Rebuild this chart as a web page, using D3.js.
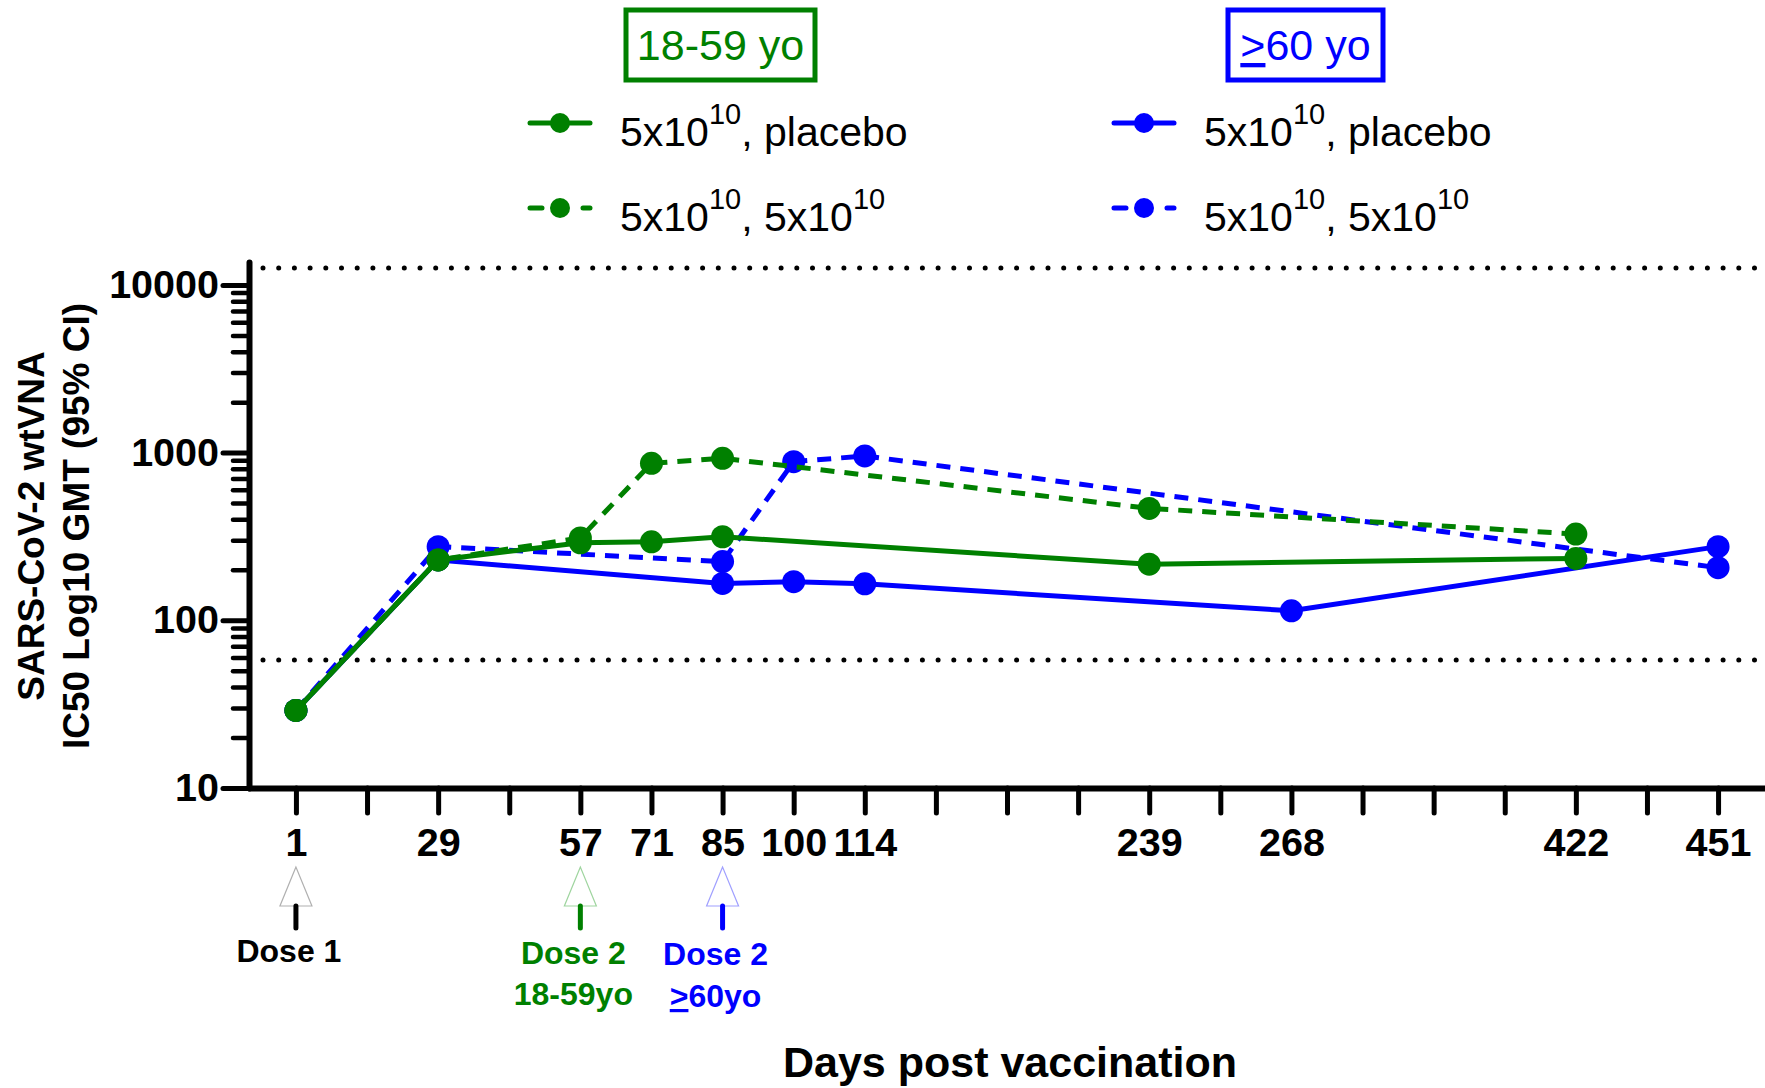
<!DOCTYPE html>
<html>
<head>
<meta charset="utf-8">
<script src="https://cdn.jsdelivr.net/npm/d3@7"></script>
<style>
  body { margin: 0; background: #fff; }
  text { font-family: "Liberation Sans", Arial, sans-serif; }
</style>
</head>
<body>
<svg id="chart" width="1765" height="1088"></svg>
<script>
// x axis: one slot per tick, empty label = unlabeled tick
const tickLabels = ['1', '', '29', '', '57', '71', '85', '100', '114', '', '', '', '239', '', '268', '', '', '', '422', '', '451'];
const majorTicks = [10, 100, 1000, 10000];
const limitLines = [58, 12600];

const days1859Placebo = ['1', '29', '57', '71', '85', '239', '422'];
const gmt1859Placebo = [29, 229, 290, 294, 315, 216, 234];
const days1859Boost = ['1', '29', '57', '71', '85', '239', '422'];
const gmt1859Boost = [29, 229, 310, 864, 925, 465, 327];
const days60Placebo = ['1', '29', '85', '100', '114', '268', '451'];
const gmt60Placebo = [29, 229, 166, 170, 165, 114, 275];
const days60Boost = ['1', '29', '85', '100', '114', '451'];
const gmt60Boost = [29, 275, 224, 883, 955, 206];

const doseDays = ['1', '57', '85'];

const GREEN = '#008000';
const BLUE = '#0000ff';

const svg = d3.select('#chart');

const x = d3.scalePoint()
  .domain(d3.range(tickLabels.length))
  .range([249, 1765])
  .padding(0.66);
const xDay = day => x(tickLabels.indexOf(day));

const y = d3.scaleLog()
  .domain([10, 13700])
  .range([788, 262]);

// limit lines (dotted)
svg.selectAll('.limit')
  .data(limitLines)
  .enter()
  .append('line')
  .attr('x1', 263)
  .attr('x2', 1765)
  .attr('y1', d => y(d))
  .attr('y2', d => y(d))
  .attr('stroke', '#000')
  .attr('stroke-width', 5)
  .attr('stroke-linecap', 'round')
  .attr('stroke-dasharray', '0,15.7');

// axes
const minorTicks = [];
[10, 100, 1000].forEach(dec => {
  for (let m = 2; m <= 9; m++) minorTicks.push(dec * m);
});

const yMinor = svg.append('g')
  .attr('transform', 'translate(249,0)')
  .call(d3.axisLeft(y).tickValues(minorTicks).tickSize(16).tickFormat(''));
yMinor.select('.domain').remove();
yMinor.selectAll('line').attr('stroke-width', 4.5).attr('stroke-linecap', 'round');

const yAxis = svg.append('g')
  .attr('transform', 'translate(249,0)')
  .call(d3.axisLeft(y)
    .tickValues(majorTicks)
    .tickSize(26)
    .tickSizeOuter(0)
    .tickPadding(4)
    .tickFormat(d3.format('d')));

const xAxis = svg.append('g')
  .attr('transform', 'translate(0,788)')
  .call(d3.axisBottom(x)
    .tickSize(25)
    .tickSizeOuter(0)
    .tickPadding(15)
    .tickFormat(i => tickLabels[i]));

[xAxis, yAxis].forEach(g => {
  g.select('.domain').attr('stroke-width', 6).attr('stroke-linecap', 'round');
  g.selectAll('.tick line').attr('stroke-width', 5).attr('stroke-linecap', 'round');
  g.selectAll('.tick text')
    .attr('font-family', '"Liberation Sans", Arial, sans-serif')
    .attr('font-size', 39.5)
    .attr('font-weight', 'bold')
    .attr('fill', '#000');
});

// series
const series = [
  { days: days60Placebo, values: gmt60Placebo, color: BLUE, dashed: false },
  { days: days60Boost, values: gmt60Boost, color: BLUE, dashed: true },
  { days: days1859Placebo, values: gmt1859Placebo, color: GREEN, dashed: false },
  { days: days1859Boost, values: gmt1859Boost, color: GREEN, dashed: true }
];

const line = d3.line()
  .x(d => xDay(d.day))
  .y(d => y(d.v));

series.forEach(s => {
  const pts = s.days.map((day, i) => ({ day, v: s.values[i] }));
  svg.append('path')
    .datum(pts)
    .attr('d', line)
    .attr('fill', 'none')
    .attr('stroke', s.color)
    .attr('stroke-width', 5)
    .attr('stroke-dasharray', s.dashed ? '14,10' : null);
  svg.append('g')
    .selectAll('circle')
    .data(pts)
    .enter()
    .append('circle')
    .attr('cx', d => xDay(d.day))
    .attr('cy', d => y(d.v))
    .attr('r', 11.5)
    .attr('fill', s.color);
});

// dose arrows
const doseStyle = [
  { stem: '#000', outline: '#b0b0b0' },
  { stem: GREEN, outline: '#9fd59f' },
  { stem: BLUE, outline: '#a0a0ff' }
];
doseDays.forEach((day, i) => {
  const cx = xDay(day);
  svg.append('path')
    .attr('d', `M${cx},867L${cx - 16},906L${cx + 16},906Z`)
    .attr('fill', 'none')
    .attr('stroke', doseStyle[i].outline)
    .attr('stroke-width', 1.2);
  svg.append('line')
    .attr('x1', cx).attr('x2', cx)
    .attr('y1', 906).attr('y2', 928)
    .attr('stroke', doseStyle[i].stem)
    .attr('stroke-width', 5)
    .attr('stroke-linecap', 'round');
});

const doseText = (day, dyLine, color, parts) => {
  const t = svg.append('text')
    .attr('x', xDay(day) - 7)
    .attr('y', dyLine)
    .attr('text-anchor', 'middle')
    .attr('font-size', 32)
    .attr('font-weight', 'bold')
    .attr('fill', color);
  parts.forEach(p => {
    const ts = t.append('tspan').text(p.text);
    if (p.under) ts.attr('text-decoration', 'underline');
  });
};
doseText('1', 962, '#000', [{ text: 'Dose 1' }]);
doseText('57', 964, GREEN, [{ text: 'Dose 2' }]);
doseText('57', 1005, GREEN, [{ text: '18-59yo' }]);
doseText('85', 965, BLUE, [{ text: 'Dose 2' }]);
doseText('85', 1007, BLUE, [{ text: '>', under: true }, { text: '60yo' }]);

// axis titles
svg.append('text')
  .attr('transform', 'translate(44,526) rotate(-90)')
  .attr('text-anchor', 'middle')
  .attr('font-size', 37)
  .attr('font-weight', 'bold')
  .text('SARS-CoV-2 wtVNA');
svg.append('text')
  .attr('transform', 'translate(89,526) rotate(-90)')
  .attr('text-anchor', 'middle')
  .attr('font-size', 37)
  .attr('font-weight', 'bold')
  .text('IC50 Log10 GMT (95% CI)');
svg.append('text')
  .attr('x', 1010)
  .attr('y', 1077)
  .attr('text-anchor', 'middle')
  .attr('font-size', 43)
  .attr('font-weight', 'bold')
  .text('Days post vaccination');

// group headers
const headers = [
  { x0: 626, x1: 815, color: GREEN, parts: [{ text: '18-59 yo' }] },
  { x0: 1228, x1: 1383, color: BLUE, parts: [{ text: '>', under: true }, { text: '60 yo' }] }
];
headers.forEach(h => {
  svg.append('rect')
    .attr('x', h.x0).attr('y', 10)
    .attr('width', h.x1 - h.x0).attr('height', 70)
    .attr('fill', 'none')
    .attr('stroke', h.color)
    .attr('stroke-width', 5);
  const t = svg.append('text')
    .attr('x', (h.x0 + h.x1) / 2)
    .attr('y', 60)
    .attr('text-anchor', 'middle')
    .attr('font-size', 43)
    .attr('fill', h.color);
  h.parts.forEach(p => {
    const ts = t.append('tspan').text(p.text);
    if (p.under) ts.attr('text-decoration', 'underline');
  });
});

// legend
const legendItems = [
  { x: 530, y: 123, color: GREEN, dashed: false, rest: ', placebo', sup2: false },
  { x: 530, y: 208, color: GREEN, dashed: true, rest: ', 5x10', sup2: true },
  { x: 1114, y: 123, color: BLUE, dashed: false, rest: ', placebo', sup2: false },
  { x: 1114, y: 208, color: BLUE, dashed: true, rest: ', 5x10', sup2: true }
];
legendItems.forEach(l => {
  svg.append('line')
    .attr('x1', l.x).attr('x2', l.x + 60)
    .attr('y1', l.y).attr('y2', l.y)
    .attr('stroke', l.color)
    .attr('stroke-width', 5)
    .attr('stroke-linecap', 'round')
    .attr('stroke-dasharray', l.dashed ? '12,41' : null);
  svg.append('circle')
    .attr('cx', l.x + 30).attr('cy', l.y)
    .attr('r', 10)
    .attr('fill', l.color);
  const t = svg.append('text')
    .attr('x', l.x + 90)
    .attr('y', l.y + 23)
    .attr('font-size', 41)
    .attr('fill', '#000');
  t.append('tspan').text('5x10');
  t.append('tspan').attr('font-size', 29).attr('dy', -22).text('10');
  t.append('tspan').attr('dy', 22).text(l.rest);
  if (l.sup2) t.append('tspan').attr('font-size', 29).attr('dy', -22).text('10');
});
</script>
</body>
</html>
